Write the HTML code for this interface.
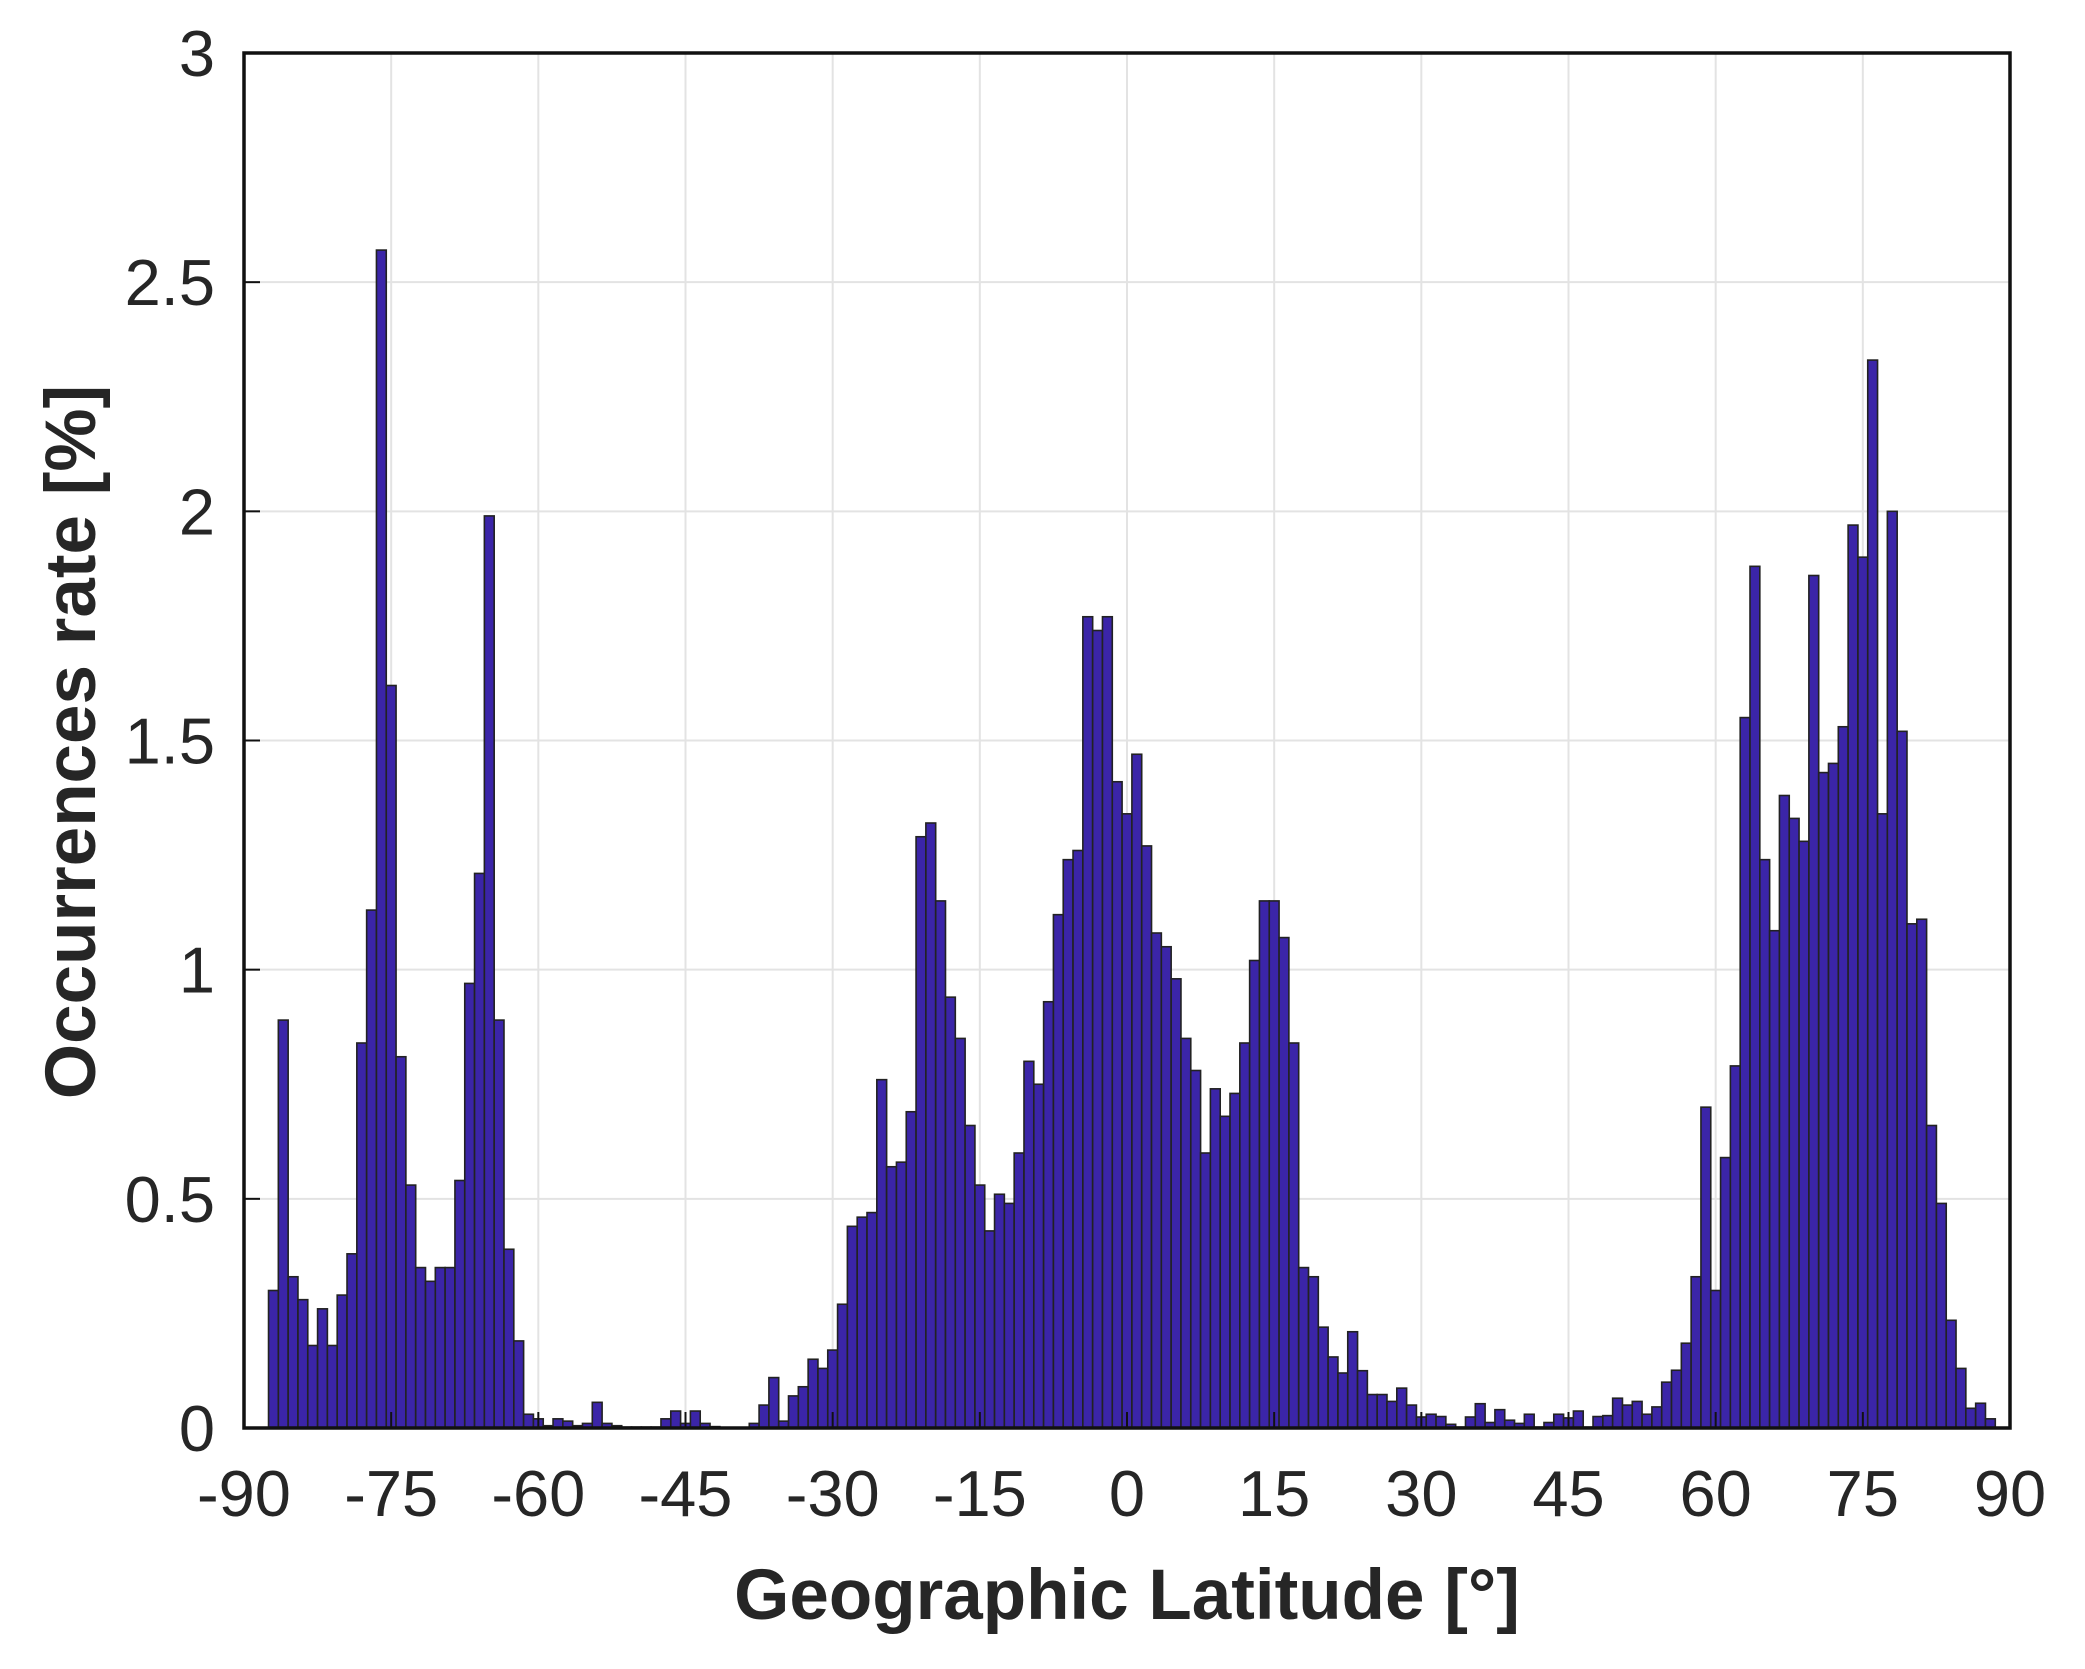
<!DOCTYPE html>
<html><head><meta charset="utf-8"><style>
html,body{margin:0;padding:0;background:#fff}
svg{display:block}
text{font-family:"Liberation Sans",Arial,sans-serif;fill:#262626}
</style></head><body>
<svg id="chart" width="2085" height="1669" viewBox="0 0 2085 1669" xmlns="http://www.w3.org/2000/svg">
<g id="grid"></g>
<g id="bars"></g>
<rect x="244" y="53" width="1766" height="1375" fill="none" stroke="#111" stroke-width="3.5"/>
<g id="ticks"></g>
<text x="1127" y="1619" font-size="71" font-weight="bold" text-anchor="middle">Geographic Latitude [°]</text>
<text transform="translate(95,742) rotate(-90)" font-size="71" font-weight="bold" text-anchor="middle">Occurrences rate [%]</text>
</svg>
<script>
const binStart = -87.5;
const binWidth = 1;
const rates = [
0.30,0.89,0.33,0.28,0.18,0.26,0.18,0.29,0.38,0.84,1.13,2.57,1.62,0.81,0.53,0.35,0.32,0.35,0.35,0.54,
0.97,1.21,1.99,0.89,0.39,0.19,0.03,0.02,0.005,0.02,0.015,0.005,0.01,0.056,0.01,0.005,0.002,0.002,0.002,0.002,
0.02,0.037,0.01,0.037,0.01,0.003,0.001,0.001,0.001,0.01,0.05,0.11,0.015,0.07,0.09,0.15,0.13,0.17,0.27,0.44,
0.46,0.47,0.76,0.57,0.58,0.69,1.29,1.32,1.15,0.94,0.85,0.66,0.53,0.43,0.51,0.49,0.60,0.80,0.75,0.93,
1.12,1.24,1.26,1.77,1.74,1.77,1.41,1.34,1.47,1.27,1.08,1.05,0.98,0.85,0.78,0.60,0.74,0.68,0.73,0.84,
1.02,1.15,1.15,1.07,0.84,0.35,0.33,0.22,0.155,0.12,0.21,0.125,0.073,0.073,0.058,0.087,0.05,0.024,0.03,0.025,
0.008,0.002,0.024,0.053,0.012,0.04,0.017,0.01,0.03,0.002,0.012,0.03,0.022,0.037,0.002,0.025,0.027,0.065,0.05,0.058,
0.03,0.046,0.10,0.126,0.185,0.33,0.70,0.30,0.59,0.79,1.55,1.88,1.24,1.085,1.38,1.33,1.28,1.86,1.43,1.45,
1.53,1.97,1.90,2.33,1.34,2.00,1.52,1.10,1.11,0.66,0.49,0.235,0.13,0.043,0.054,0.02
];
const xTicks = [-90,-75,-60,-45,-30,-15,0,15,30,45,60,75,90];
const yTicks = [0,0.5,1,1.5,2,2.5,3];
const yTickLabels = ["0","0.5","1","1.5","2","2.5","3"];

const L=244,R=2010,T=53,B=1428;
function xs(v){return L+(v+90)/180*(R-L);}
function ys(v){return B-v/3*(B-T);}
const NS="http://www.w3.org/2000/svg";
function mk(tag,attrs,parent){const e=document.createElementNS(NS,tag);for(const k in attrs)e.setAttribute(k,attrs[k]);parent.appendChild(e);return e;}
const grid=document.getElementById('grid'),bars=document.getElementById('bars'),ticks=document.getElementById('ticks');
xTicks.forEach(t=>{
  const g=mk('line',{x1:xs(t),x2:xs(t),y1:T,y2:B,stroke:'#e3e3e3','stroke-width':2},grid);
  
  
  const tk=mk('line',{x1:xs(t),x2:xs(t),y1:B,y2:B-16,stroke:'#111','stroke-width':2},ticks);
  
  
  const lb=mk('text',{x:xs(t),y:1516,'font-size':65,'text-anchor':'middle'},ticks);
  lb.textContent=String(t);
  
  
});
yTicks.forEach((t,i)=>{
  const g=mk('line',{x1:L,x2:R,y1:ys(t),y2:ys(t),stroke:'#e3e3e3','stroke-width':2},grid);
  
  
  const tk=mk('line',{x1:L,x2:L+16,y1:ys(t),y2:ys(t),stroke:'#111','stroke-width':2},ticks);
  
  
  const lb=mk('text',{x:215,y:ys(t)+23,'font-size':65,'text-anchor':'end'},ticks);
  lb.textContent=yTickLabels[i];
  
  
});
rates.forEach((v,i)=>{
  const x0=xs(binStart+i*binWidth),x1=xs(binStart+(i+1)*binWidth);
  const r=mk('rect',{x:x0,y:ys(v),width:x1-x0,height:B-ys(v),fill:'#3b25a8',stroke:'#222','stroke-width':1.6},bars);
  
  
});
</script>
</body></html>
